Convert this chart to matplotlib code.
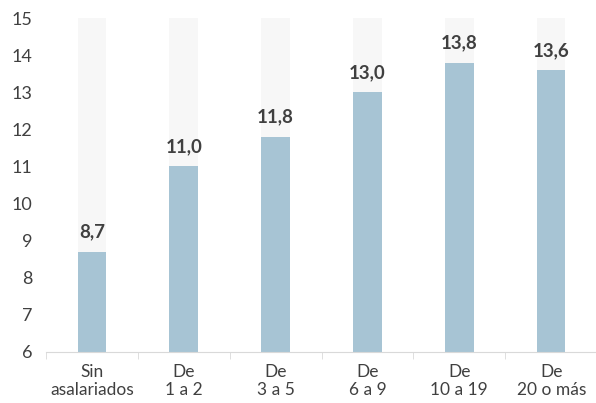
import numpy as np
import matplotlib
matplotlib.use("Agg")
from matplotlib import pyplot as plt

categories = ["Sin\nasalariados", "De\n1 a 2", "De\n3 a 5", "De\n6 a 9", "De\n10 a 19", "De\n20 o más"]
values = [8.7, 11.0, 11.8, 13.0, 13.8, 13.6]
y_min, y_max = 6, 15

plt.rcParams['font.family'] = ['Lato', 'DejaVu Sans']

fig = plt.figure(figsize=(5.96, 4.03), dpi=100)
ax = fig.add_axes([0.077, 0.127, 0.925, 0.828])

x = np.arange(len(categories))
w = 0.31
# fondo gris hasta el máximo
ax.bar(x, [y_max - y_min] * len(x), width=w, bottom=y_min, color="#f7f7f7", zorder=1)
ax.bar(x, np.array(values) - y_min, width=w, bottom=y_min, color="#a7c4d4", zorder=2)

for xi, v in zip(x, values):
    ax.text(xi, v + 0.3, f"{v:.1f}".replace(".", ","), ha="center", va="bottom",
            fontsize=13.5, fontweight="bold", color="#404040", zorder=3)

ax.set_xlim(-0.5, len(x) - 0.5)
ax.set_ylim(y_min, y_max)
ax.set_yticks(range(y_min, y_max + 1))
ax.tick_params(axis="y", length=0, labelsize=13, labelcolor="#404040", pad=10)

ax.set_xticks(x)
ax.set_xticklabels(categories, fontsize=12.5, color="#404040", linespacing=1.1)
ax.tick_params(axis="x", length=0, pad=9)
ax.set_xticks(np.arange(len(x) + 1) - 0.5, minor=True)
ax.tick_params(axis="x", which="minor", length=5, color="#d9d9d9")

for s in ["top", "right", "left"]:
    ax.spines[s].set_visible(False)
ax.spines["bottom"].set_color("#d9d9d9")

fig.savefig("out.png", dpi=100)
